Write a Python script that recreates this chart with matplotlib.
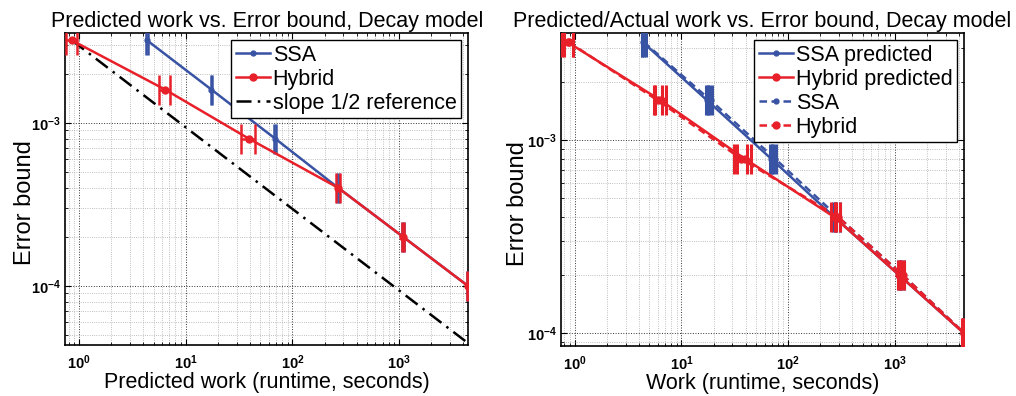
import numpy as np
import matplotlib
matplotlib.use('Agg')
import matplotlib.pyplot as plt
from matplotlib.lines import Line2D
from matplotlib.ticker import FuncFormatter, LogLocator, NullFormatter

plt.rcParams['font.family'] = ['Liberation Sans', 'DejaVu Sans']
plt.rcParams['mathtext.fontset'] = 'custom'
plt.rcParams['mathtext.rm'] = 'Liberation Sans'
plt.rcParams['mathtext.bf'] = 'Liberation Sans:bold'

BLUE = '#3953a4'
RED = '#e8202a'
DASH = (0, (3.0, 1.8))

# error tolerances (y axis)
tol = [3.2e-3, 1.6e-3, 8e-4, 4e-4, 2e-4, 1e-4]

# predicted work, seconds
ssa_pred = [4.35, 17.4, 69.0, 268.0, 1090.0, 4420.0]
hyb_pred = [0.86, 6.4, 39.0, 268.0, 1090.0, 4420.0]
ssa_pred_err = [0.08, 0.3, 1.2, 4.0, 15.0, 50.0]
hyb_pred_err = [0.1, 0.8, 6.0, 14.0, 30.0, 60.0]

# actual (measured) work, seconds
ssa_act = [4.45, 18.8, 75.0, 292.0, 1180.0, 4450.0]
hyb_act = [0.88, 6.0, 36.0, 292.0, 1180.0, 4450.0]
ssa_act_err = [0.15, 0.6, 2.5, 12.0, 40.0, 120.0]
hyb_act_err = [0.08, 0.5, 5.0, 16.0, 45.0, 150.0]

XLIM = (0.74, 4460)


def bold_pow(v, pos):
    e = int(round(np.log10(v)))
    return r'$\mathbf{10^{%d}}$' % e


def style_axes(ax, ylim, ylab_x):
    ax.set_xscale('log')
    ax.set_yscale('log')
    ax.set_xlim(*XLIM)
    ax.set_ylim(*ylim)
    ax.xaxis.set_major_locator(LogLocator(base=10, numticks=10))
    ax.yaxis.set_major_locator(LogLocator(base=10, numticks=10))
    ax.xaxis.set_minor_locator(LogLocator(base=10, subs=np.arange(2, 10), numticks=10))
    ax.yaxis.set_minor_locator(LogLocator(base=10, subs=np.arange(2, 10), numticks=10))
    ax.xaxis.set_major_formatter(FuncFormatter(bold_pow))
    ax.yaxis.set_major_formatter(FuncFormatter(bold_pow))
    ax.xaxis.set_minor_formatter(NullFormatter())
    ax.yaxis.set_minor_formatter(NullFormatter())
    ax.tick_params(which='both', direction='in', top=True, right=True, labelsize=10.5)
    ax.tick_params(which='major', length=4)
    ax.tick_params(axis='x', which='major', pad=6)
    ax.tick_params(axis='y', which='major', pad=3)
    ax.tick_params(which='minor', length=2)
    ax.grid(True, which='major', linestyle=':', color='#333333', linewidth=0.7)
    ax.grid(True, which='minor', linestyle=':', color='#aaaaaa', linewidth=0.6)
    for s in ax.spines.values():
        s.set_linewidth(1.2)
    ax.set_ylabel('Error bound', fontsize=17)
    ax.yaxis.set_label_coords(ylab_x, 0.455)


def draw(ax, x, xerr, color, marker, ms, ls='-', ct=1.8):
    ax.errorbar(x, tol, xerr=xerr, color=color, marker=marker, markersize=ms,
                linewidth=1.8, linestyle=ls, elinewidth=1.8, capsize=11, capthick=ct,
                zorder=4 if color == RED else 3)
    return Line2D([], [], color=color, marker=marker, markersize=ms, linewidth=1.8, linestyle=ls)


def add_legend(ax, handles, labels):
    leg = ax.legend(handles, labels, loc='upper right', fontsize=15.5, fancybox=False,
                    edgecolor='black', framealpha=1, borderaxespad=0.35, handlelength=1.6,
                    handletextpad=0.12, labelspacing=0.14, borderpad=0.2, numpoints=1)
    leg.get_frame().set_linewidth(1.0)


fig = plt.figure(figsize=(10.16, 3.96), dpi=100)
ax1 = fig.add_axes([0.064, 0.129, 0.397, 0.788])
ax2 = fig.add_axes([0.552, 0.127, 0.397, 0.79])

# -- left: predicted work
h_ssa = draw(ax1, ssa_pred, ssa_pred_err, BLUE, '.', 7)
h_hyb = draw(ax1, hyb_pred, hyb_pred_err, RED, 'o', 5)
xr = np.array([hyb_pred[0], hyb_pred[-1]])
h_ref, = ax1.plot(xr, tol[0] * (xr / hyb_pred[0]) ** -0.5, color='black',
                  linestyle=(0, (6, 2.5, 1, 2.5)), linewidth=1.8, zorder=2)
style_axes(ax1, (4.35e-5, 3.56e-3), -0.072)
ax1.set_title('Predicted work vs. Error bound, Decay model', fontsize=15.5, pad=4)
ax1.set_xlabel('Predicted work (runtime, seconds)', fontsize=15.5, labelpad=0)
add_legend(ax1, [h_ssa, h_hyb, h_ref], ['SSA', 'Hybrid', 'slope 1/2 reference'])

# -- right: predicted vs actual work
h1 = draw(ax2, ssa_pred, ssa_pred_err, BLUE, '.', 7, ct=2.2)
h2 = draw(ax2, hyb_pred, hyb_pred_err, RED, 'o', 5, ct=2.2)
h3 = draw(ax2, ssa_act, ssa_act_err, BLUE, '.', 7, ls=DASH, ct=2.2)
h4 = draw(ax2, hyb_act, hyb_act_err, RED, 'o', 5, ls=DASH, ct=2.2)
style_axes(ax2, (8.6e-5, 3.58e-3), -0.078)
ax2.set_title('Predicted/Actual work vs. Error bound, Decay model', fontsize=15.5, pad=4)
ax2.set_xlabel('Work (runtime, seconds)', fontsize=15.5, labelpad=0)
add_legend(ax2, [h1, h2, h3, h4], ['SSA predicted', 'Hybrid predicted', 'SSA', 'Hybrid'])

fig.savefig('out.png', dpi=100)
